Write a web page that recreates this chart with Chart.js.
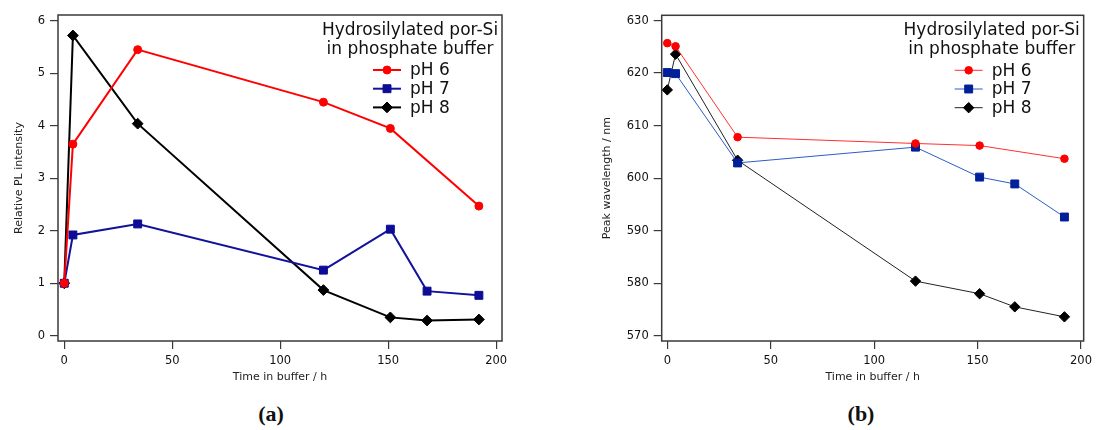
<!DOCTYPE html>
<html>
<head>
<meta charset="utf-8">
<script src="https://cdn.jsdelivr.net/npm/chart.js@4.4.1/dist/chart.umd.min.js"></script>
<style>
  html, body { margin:0; padding:0; background:#fff; }
  #wrap { position:relative; width:1097px; height:430px; overflow:hidden; }
  canvas { position:absolute; top:0; }
  #cvA { left:0; }
  #cvB { left:548px; }
  .cap { position:absolute; top:401px; transform:translateX(-50%); font:bold 22px "Liberation Serif", serif; line-height:26px; color:#111; }
</style>
</head>
<body>
<div id="wrap">
  <canvas id="cvA" width="545" height="390"></canvas>
  <canvas id="cvB" width="549" height="390"></canvas>
  <div class="cap" style="left:271px">(a)</div>
  <div class="cap" style="left:861px">(b)</div>
</div>
<script>
// (a) relative PL intensity
const timeA6 = [0, 4, 34, 120, 151, 192];
const plA6   = [1.0, 3.65, 5.45, 4.45, 3.95, 2.47];
const timeA7 = [0, 4, 34, 120, 151, 168, 192];
const plA7   = [1.0, 1.92, 2.13, 1.25, 2.03, 0.85, 0.77];
const timeA8 = [0, 4, 34, 120, 151, 168, 192];
const plA8   = [1.0, 5.72, 4.04, 0.87, 0.35, 0.29, 0.31];

// (b) peak wavelength
const timeB6 = [0, 4, 34, 120, 151, 192];
const wlB6   = [625.7, 625.1, 607.8, 606.6, 606.2, 603.7];
const timeB7 = [0, 4, 34, 120, 151, 168, 192];
const wlB7   = [620.1, 619.9, 602.9, 605.9, 600.2, 598.9, 592.6];
const timeB8 = [0, 4, 34, 120, 151, 168, 192];
const wlB8   = [616.8, 623.6, 603.4, 580.4, 578.0, 575.5, 573.6];

const seriesNames = ['pH 6', 'pH 7', 'pH 8'];
const legendTitle = ['Hydrosilylated por-Si', 'in phosphate buffer'];
const xTicks  = [0, 50, 100, 150, 200];
const yTicksA = [0, 1, 2, 3, 4, 5, 6];
const yTicksB = [570, 580, 590, 600, 610, 620, 630];

const FAMILY = '"DejaVu Sans", sans-serif';

function pts(xs, ys){ return xs.map((x, i) => ({x, y: ys[i]})); }

function marker(ctx, style, r, x, y){
  ctx.beginPath();
  if (style === 'circle') ctx.arc(x, y, r, 0, Math.PI * 2);
  else if (style === 'rect'){ const s = r * Math.SQRT1_2; ctx.rect(x - s, y - s, 2 * s, 2 * s); }
  else { ctx.moveTo(x - r, y); ctx.lineTo(x, y - r); ctx.lineTo(x + r, y); ctx.lineTo(x, y + r); ctx.closePath(); }
  ctx.fill(); ctx.stroke();
}

// box frame + in-plot legend (Igor style)
const frameAndLegend = {
  id: 'frameAndLegend',
  afterDraw(chart){
    const {ctx, chartArea: a} = chart;
    ctx.save();
    ctx.strokeStyle = '#3a3a3a'; ctx.lineWidth = 1.5;
    ctx.strokeRect(a.left, a.top, a.right - a.left, a.bottom - a.top);

    ctx.fillStyle = '#111';
    ctx.font = '17px ' + FAMILY;
    ctx.textAlign = 'center'; ctx.textBaseline = 'alphabetic';
    ctx.fillText(legendTitle[0], a.right - 92, a.top + 20);
    ctx.fillText(legendTitle[1], a.right - 92, a.top + 39);
    ctx.textAlign = 'left'; ctx.textBaseline = 'middle';
    chart.data.datasets.forEach((ds, i) => {
      const y = a.top + 55 + i * 18.7;
      ctx.strokeStyle = ds.borderColor; ctx.lineWidth = ds.borderWidth;
      ctx.beginPath(); ctx.moveTo(a.right - 129, y); ctx.lineTo(a.right - 101, y); ctx.stroke();
      ctx.fillStyle = ds.pointBackgroundColor; ctx.strokeStyle = ds.pointBorderColor; ctx.lineWidth = 1;
      marker(ctx, ds.pointStyle, ds.pointRadius, a.right - 115, y);
      ctx.fillStyle = '#111';
      ctx.fillText(ds.label, a.right - 92, y + 1);
    });
    ctx.restore();
  }
};

function series(label, xs, ys, line, fill, lw, style, r){
  return {label, data: pts(xs, ys), borderColor: line, borderWidth: lw, tension: 0,
    pointStyle: style, pointRadius: r, pointBackgroundColor: fill, pointBorderColor: fill, pointBorderWidth: 1};
}

function makeChart(id, sets, o){
  const tickFont = {family: FAMILY, size: 11.5};
  const titleFont = {family: FAMILY, size: 11};
  return new Chart(document.getElementById(id), {
    type: 'line',
    data: {datasets: sets},
    options: {
      responsive: false, animation: false, devicePixelRatio: 1,
      layout: {padding: {left: o.padL, right: o.padR, top: o.padT, bottom: 0}},
      plugins: {legend: {display: false}, tooltip: {enabled: false}},
      scales: {
        x: {
          type: 'linear', min: o.xMin, max: o.xMax,
          afterBuildTicks: s => { s.ticks = xTicks.map(v => ({value: v})); },
          afterFit: s => { s.height = 49; },
          grid: {drawOnChartArea: false, drawTicks: true, tickLength: 8, color: '#3a3a3a', lineWidth: 1.2},
          border: {display: false},
          ticks: {padding: 5, font: tickFont, color: '#111', maxRotation: 0},
          title: {display: true, text: 'Time in buffer / h', font: titleFont, color: '#222', padding: {top: 0, bottom: 6}}
        },
        y: {
          type: 'linear', min: o.yMin, max: o.yMax,
          afterBuildTicks: s => { s.ticks = o.yTicks.map(v => ({value: v})); },
          afterFit: s => { s.width = o.yW; },
          grid: {drawOnChartArea: false, drawTicks: true, tickLength: 8, color: '#3a3a3a', lineWidth: 1.2},
          border: {display: false},
          ticks: {padding: 5, font: tickFont, color: '#111'},
          title: {display: true, text: o.yTitle, font: titleFont, color: '#222', padding: {top: 2, bottom: 0}}
        }
      }
    },
    plugins: [frameAndLegend]
  });
}

makeChart('cvA', [
  series(seriesNames[0], timeA6, plA6, '#ff0000', '#ff0000', 2, 'circle', 4),
  series(seriesNames[1], timeA7, plA7, '#12129a', '#0c0c96', 2, 'rect', 5.6),
  series(seriesNames[2], timeA8, plA8, '#000000', '#000000', 2, 'rectRot', 5.4)
], {padL: 10.4, padR: 43, padT: 15, yW: 47.6, xMin: -2.9, xMax: 202.7, yMin: -0.1, yMax: 6.11,
    yTicks: yTicksA, yTitle: 'Relative PL intensity'});

makeChart('cvB', [
  series(seriesNames[0], timeB6, wlB6, '#ff3030', '#ff0000', 1, 'circle', 3.8),
  series(seriesNames[1], timeB7, wlB7, '#2b5cc8', '#00209a', 1, 'rect', 5.6),
  series(seriesNames[2], timeB8, wlB8, '#222222', '#000000', 1, 'rectRot', 5.2)
], {padL: 50.7, padR: 7, padT: 15.3, yW: 63, xMin: -2.7, xMax: 201.3, yMin: 569.0, yMax: 631.0,
    yTicks: yTicksB, yTitle: 'Peak wavelength / nm'});
</script>
</body>
</html>
